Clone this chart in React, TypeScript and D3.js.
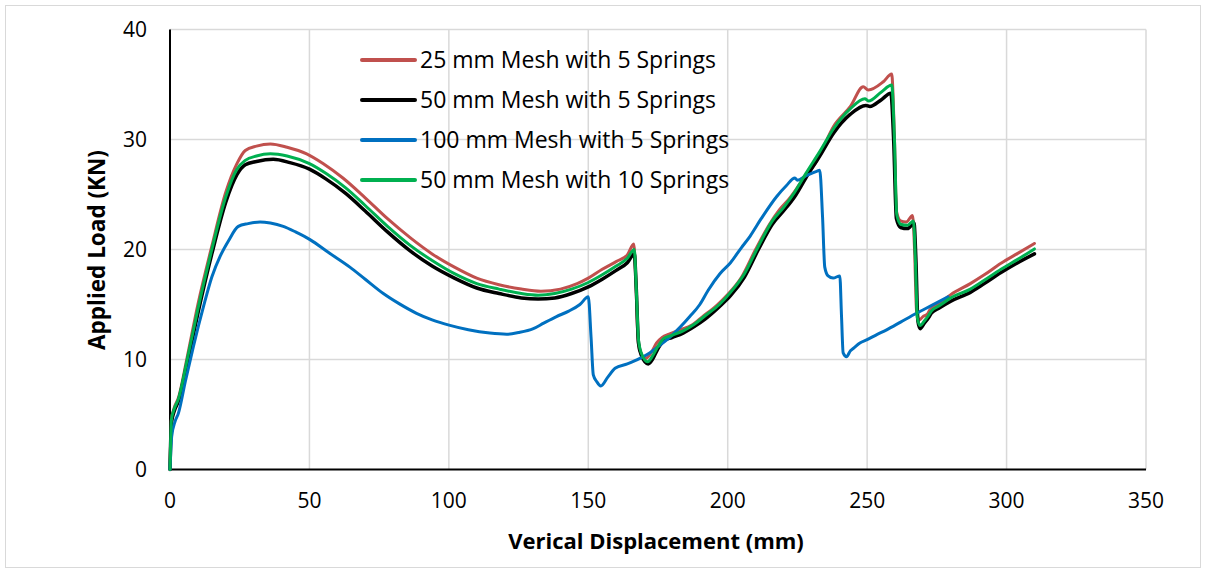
import React from 'react';
import * as d3 from 'd3';

type Pt = [number, number];

// series values: [displacement (mm), load (kN)]
const mesh25s5: Pt[] = [
  [0, 0], [0.5, 4.5], [1.5, 5.6], [3, 6.5], [6, 10], [10, 15], [15, 20.3], [20, 25.2], [24, 27.8], [27, 29.0],
  [31, 29.4], [36, 29.6], [42, 29.3], [49, 28.7], [55, 27.8], [62, 26.5], [70, 24.7], [78, 22.8], [86, 21.1],
  [94, 19.6], [102, 18.4], [110, 17.4], [118, 16.8], [126, 16.4], [133, 16.2], [140, 16.4], [146, 16.9],
  [150, 17.4], [155, 18.2], [160, 18.9], [164, 19.5], [166.3, 20.5], [167, 17.5], [167.8, 12], [168.5, 10.8],
  [170.5, 10.1], [172.5, 10.6], [174.5, 11.5], [176.5, 12.0], [179, 12.3], [183, 12.7], [187, 13.1], [191, 13.9],
  [196, 14.9], [200, 15.9], [205, 17.5], [210, 20.0], [215, 22.3], [218.5, 23.6], [222, 24.6], [226, 26.0],
  [232, 28.1], [238, 31.2], [244, 33.0], [248.6, 34.8], [250.4, 34.5], [255.8, 35.25], [258.8, 35.95],
  [259.8, 30], [260.5, 23.5], [262, 22.6], [264, 22.5], [266.3, 23.1], [267, 20], [267.7, 14.5], [268.7, 13.6],
  [270, 13.9], [271.5, 14.1], [272.5, 14.5], [276, 15.1], [280, 15.9], [287, 16.9], [292, 17.7], [298, 18.75],
  [304, 19.65], [310, 20.55],
];

const mesh50s5: Pt[] = [
  [0, 0], [0.5, 4.2], [1.5, 5.3], [3, 6.2], [6, 9.5], [10, 14.2], [15, 19.6], [20, 24.3], [24, 26.8], [27, 27.7],
  [31, 28.0], [37, 28.2], [43, 27.9], [50, 27.3], [56, 26.4], [63, 25.1], [70, 23.5], [78, 21.6], [86, 19.9],
  [94, 18.5], [102, 17.4], [110, 16.5], [118, 16.0], [126, 15.6], [132, 15.5], [138, 15.6], [144, 16.0],
  [150, 16.6], [155, 17.3], [160, 18.1], [164, 18.8], [166.5, 19.6], [167.2, 16.5], [168, 11.5], [169, 10.4],
  [171.5, 9.6], [173, 10.0], [175, 11.0], [177, 11.7], [180, 12.0], [184, 12.4], [188, 13.0], [192, 13.7],
  [197, 14.8], [201, 15.8], [206, 17.5], [211, 20.0], [216, 22.3], [220, 23.5], [224, 24.8], [228, 26.5],
  [233, 28.5], [238, 30.6], [244, 32.3], [249.5, 33.1], [251, 33.0], [255, 33.6], [258.5, 34.2], [259.5, 30],
  [260.5, 22.8], [262, 22.0], [264.5, 21.9], [266.8, 22.4], [267.5, 19], [268.2, 13.5], [269, 12.8],
  [270.5, 13.3], [272, 13.8], [273, 14.2], [276, 14.7], [280, 15.3], [287, 16.1], [292, 16.9], [298, 17.9],
  [304, 18.8], [310, 19.6],
];

const mesh100s5: Pt[] = [
  [0, 0], [0.6, 3], [1.8, 4.35], [3, 5.1], [5.5, 8], [8.4, 11.2], [12, 14.8], [15, 17.5], [18, 19.4], [21, 20.8],
  [24.5, 22.1], [28, 22.35], [32.3, 22.5], [36, 22.4], [40.6, 22.1], [45, 21.6], [50.2, 20.9], [57, 19.7],
  [64.5, 18.4], [70, 17.3], [76.5, 16.0], [82, 15.1], [88.4, 14.2], [94, 13.6], [100.4, 13.1], [107, 12.7],
  [114.7, 12.4], [120.7, 12.3], [125, 12.45], [130.3, 12.8], [134, 13.3], [138.6, 13.9], [143, 14.4],
  [147, 15.0], [150, 15.7], [151, 12], [151.8, 8.6], [153, 8.0], [154.5, 7.6], [157, 8.4], [159.6, 9.2],
  [164, 9.6], [168.5, 10.1], [172, 10.6], [175.7, 11.3], [180, 12.2], [186.4, 13.9], [190, 15.0], [193, 16.3],
  [197.2, 17.8], [201, 18.8], [205, 20.2], [208, 21.2], [212, 22.8], [217.5, 24.8], [221, 25.8], [224.1, 26.5],
  [225, 26.3], [228, 26.7], [231.9, 27.1], [233, 27.2], [234, 23], [234.8, 18.4], [236, 17.6], [237.8, 17.4],
  [240.2, 17.6], [240.8, 14], [241.4, 10.6], [242.6, 10.25], [244, 10.8], [245, 11.0], [247.4, 11.5],
  [250, 11.8], [253, 12.2], [257, 12.7], [262, 13.4], [267.7, 14.2], [273, 14.9], [279, 15.7],
];

const mesh50s10: Pt[] = [
  [0, 0], [0.5, 4.5], [1.5, 5.5], [3, 6.4], [6, 9.8], [10, 14.6], [15, 20.0], [20, 24.8], [24, 27.3], [27, 28.1],
  [31, 28.5], [36, 28.7], [42, 28.5], [50, 27.8], [56, 26.9], [63, 25.6], [70, 24.0], [78, 22.1], [86, 20.4],
  [94, 19.0], [102, 17.8], [110, 16.9], [118, 16.4], [126, 16.0], [132, 15.85], [138, 16.0], [144, 16.4],
  [150, 17.0], [155, 17.7], [160, 18.5], [164, 19.2], [166.5, 20.0], [167.2, 16.5], [168, 11.8], [169, 10.6],
  [171.3, 9.8], [173, 10.3], [175, 11.2], [177, 11.9], [180, 12.2], [184, 12.6], [188, 13.2], [192, 14.0],
  [197, 15.0], [201, 16.1], [206, 17.8], [211, 20.3], [216, 22.6], [220, 23.8], [224, 25.2], [228, 26.9],
  [233, 28.9], [238, 31.0], [244, 32.8], [249.2, 33.7], [250.5, 33.5], [255, 34.3], [258.8, 34.95],
  [259.8, 30], [260.6, 23.2], [262, 22.3], [264.5, 22.2], [266.6, 22.6], [267.3, 19], [268, 13.8], [269, 13.1],
  [270.5, 13.5], [272, 14.0], [273, 14.4], [276, 14.9], [280, 15.6], [287, 16.4], [292, 17.2], [298, 18.2],
  [304, 19.1], [310, 20.05],
];

const seriesNames = [
  '25 mm Mesh with 5 Springs',
  '50 mm Mesh with 5 Springs',
  '100 mm Mesh with 5 Springs',
  '50 mm Mesh with 10 Springs',
];
const seriesColors = ['#C0504D', '#000000', '#0070C0', '#00B050'];
const seriesData = [mesh25s5, mesh50s5, mesh100s5, mesh50s10];

const xTicks = [0, 50, 100, 150, 200, 250, 300, 350];
const yTicks = [0, 10, 20, 30, 40];

const W = 1208;
const H = 572;
const margin = { top: 29.5, right: 62, bottom: 102.5, left: 170 };
const FONT = "'Open Sans', sans-serif";

const App: React.FC = () => {
  const x = d3.scaleLinear().domain([0, 350]).range([margin.left, W - margin.right]);
  const y = d3.scaleLinear().domain([0, 40]).range([H - margin.bottom, margin.top]);

  const line = d3.line<Pt>()
    .x(d => x(d[0]))
    .y(d => y(d[1]))
    .curve(d3.curveMonotoneX);

  const widths = [3, 3.5, 3, 3];

  return (
    <svg width={W} height={H} style={{ position: 'absolute', left: 0, top: 0, background: '#fff' }}
      fontFamily={FONT}>
      <rect x={5.5} y={5.5} width={1195} height={562} fill="#fff" stroke="#d9d9d9" strokeWidth={1} />

      {/* gridlines */}
      {yTicks.filter(t => t > 0).map(t => (
        <line key={'gy' + t} x1={x(0)} x2={x(350)} y1={y(t)} y2={y(t)} stroke="#d9d9d9" strokeWidth={1.5} />
      ))}
      {xTicks.filter(t => t > 0).map(t => (
        <line key={'gx' + t} x1={x(t)} x2={x(t)} y1={y(0)} y2={y(40)} stroke="#d9d9d9" strokeWidth={1.5} />
      ))}

      {/* axes */}
      <line x1={x(0)} x2={x(350)} y1={y(0)} y2={y(0)} stroke="#000" strokeWidth={2} />
      <line x1={x(0)} x2={x(0)} y1={y(0)} y2={y(40)} stroke="#000" strokeWidth={2} />

      {yTicks.map(t => (
        <text key={'ty' + t} x={147} y={y(t)} dy="0.35em" textAnchor="end" fontSize={21} fill="#000">{t}</text>
      ))}
      {xTicks.map(t => (
        <text key={'tx' + t} x={x(t)} y={508} textAnchor="middle" fontSize={21} fill="#000">{t}</text>
      ))}

      <text x={656} y={549} textAnchor="middle" fontSize={22} fontWeight="bold" fill="#000">
        Verical Displacement (mm)
      </text>
      <text transform={`translate(105,250) rotate(-90)`} textAnchor="middle" fontSize={22.5} fontWeight="bold" fill="#000">
        Applied Load (KN)
      </text>

      {/* series */}
      {seriesData.map((d, i) => (
        <path key={'s' + i} d={line(d) || ''} fill="none" stroke={seriesColors[i]} strokeWidth={widths[i]}
          strokeLinejoin="round" strokeLinecap="round" />
      ))}

      {/* legend */}
      {seriesNames.map((n, i) => (
        <g key={'lg' + i} transform={`translate(362,${60 + i * 40})`}>
          <line x1={0} x2={53} y1={0} y2={0} stroke={seriesColors[i]} strokeWidth={4} strokeLinecap="round" />
          <text x={58} y={0} dy="0.35em" fontSize={23} fill="#000">{n}</text>
        </g>
      ))}
    </svg>
  );
};

export default App;
